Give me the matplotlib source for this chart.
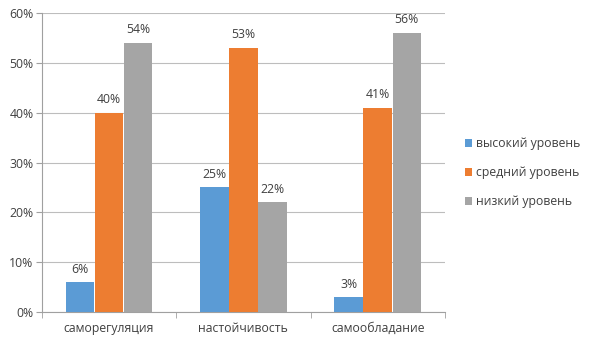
import numpy as np
import matplotlib
matplotlib.use('Agg')
import matplotlib.pyplot as plt

categories = ['саморегуляция', 'настойчивость', 'самообладание']
series_names = ['высокий уровень', 'средний уровень', 'низкий уровень']
high = [6, 25, 3]
mid = [40, 53, 41]
low = [54, 22, 56]
colors = ['#5B9BD5', '#ED7D31', '#A5A5A5']

plt.rcParams['font.family'] = ['Open Sans', 'DejaVu Sans']
FS = 8.8

fig = plt.figure(figsize=(5.9, 3.4), dpi=100)
ax = fig.add_axes([0.071, 0.082, 0.683, 0.880])

x = np.arange(len(categories))
w = 0.217
for i, (vals, name, c) in enumerate(zip([high, mid, low], series_names, colors)):
    pos = x + (i - 1) * w
    bars = ax.bar(pos, vals, width=w * 0.98, color=c, label=name, zorder=3)
    for b, v in zip(bars, vals):
        ax.text(b.get_x() + b.get_width() / 2, v + 1.3, f'{v}%',
                ha='center', va='bottom', fontsize=FS, color='#404040')

ax.set_xlim(-0.5, 2.5)
ax.set_ylim(0, 60)
ax.set_yticks(np.arange(0, 61, 10))
ax.set_yticklabels([f'{t}%' for t in range(0, 61, 10)], fontsize=FS, color='#404040')
ax.set_xticks(x)
ax.set_xticklabels(categories, fontsize=FS, color='#404040')
ax.tick_params(axis='x', length=0, pad=7)
ax.set_xticks([-0.5, 0.5, 1.5, 2.5], minor=True)
ax.tick_params(axis='x', which='minor', length=4, color='#A0A0A0')
ax.tick_params(axis='y', length=4, color='#A0A0A0', pad=2)
ax.grid(axis='y', color='#BDBDBD', lw=0.8, zorder=0)
for s in ['top', 'right']:
    ax.spines[s].set_visible(False)
for s in ['left', 'bottom']:
    ax.spines[s].set_color('#A0A0A0')

fig.legend(loc='upper left', bbox_to_anchor=(0.769, 0.628), frameon=False,
           fontsize=FS, handlelength=0.6, handleheight=0.6, handletextpad=0.3,
           labelspacing=1.3, labelcolor='#404040')

fig.savefig('out.png', dpi=100)
